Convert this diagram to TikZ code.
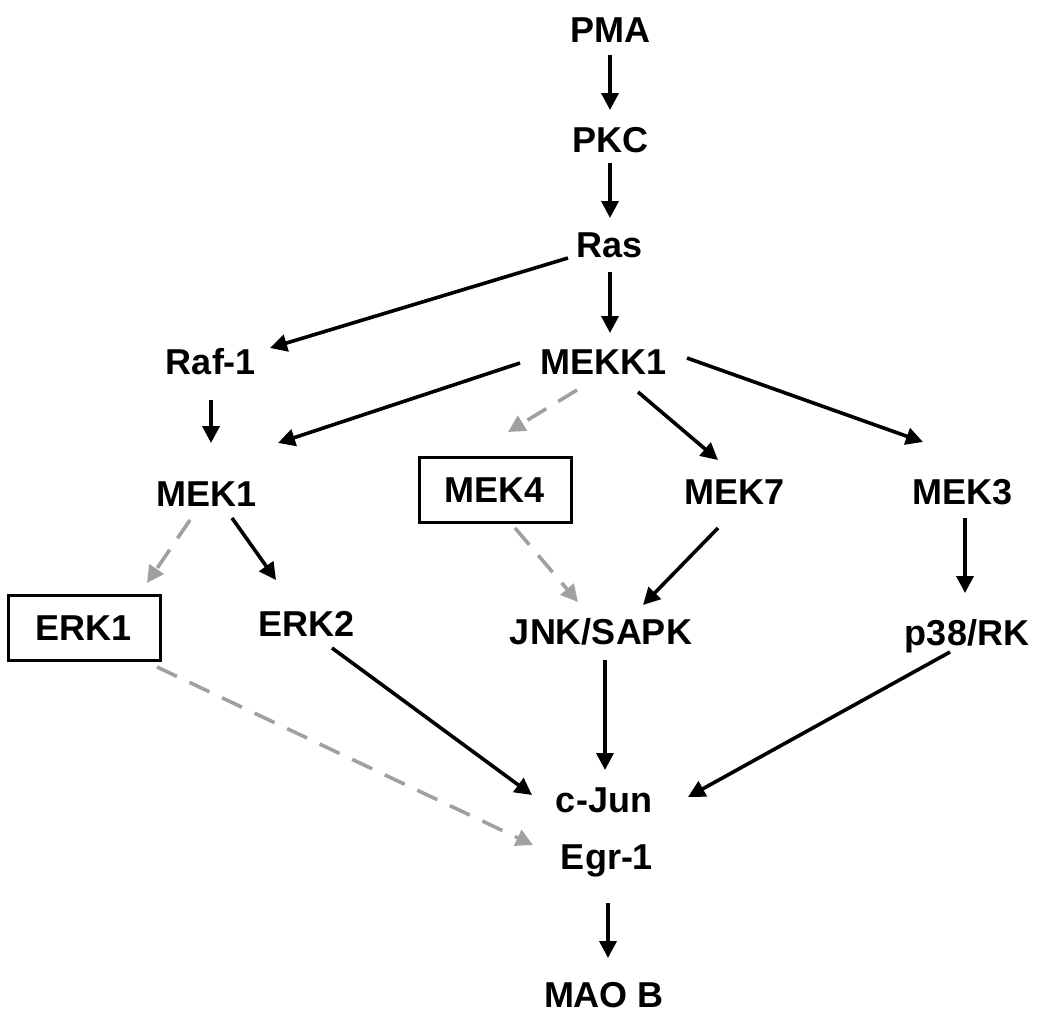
\documentclass[tikz,border=0pt]{standalone}
\usepackage{fontspec}
\setmainfont{Liberation Sans}
\usetikzlibrary{arrows.meta}
\begin{document}
\begin{tikzpicture}[x=1pt,y=-1pt,
  lbl/.style={font=\fontsize{36}{40}\selectfont\bfseries, text height=25pt, text depth=0pt, inner sep=0pt},
  boxed/.style={lbl, draw, line width=3pt, minimum width=152pt, minimum height=65pt},
  arr/.style={line width=3.6pt, -{Triangle[length=17pt,width=17pt]}},
  darr/.style={line width=3.6pt, color=dgray, dash pattern=on 22pt off 14pt, -{Triangle[length=17pt,width=17pt]}}
]
\definecolor{dgray}{RGB}{160,160,160}
\useasboundingbox (0,0) rectangle (1050,1020);
\node[lbl] (pma) at (610,30) {PMA};
\node[lbl] (pkc) at (610,140) {PKC};
\node[lbl] (ras) at (610,245) {Ras};
\node[lbl] (raf) at (211,362) {Raf-1};
\node[lbl] (mekk1) at (604,362) {MEKK1};
\node[lbl] (mek1) at (207,494) {MEK1};
\node[boxed] (mek4) at (495,490) {MEK4};
\node[lbl] (mek7) at (735,492) {MEK7};
\node[lbl] (mek3) at (963,492) {MEK3};
\node[boxed] (erk1) at (84,628) {ERK1};
\node[lbl] (erk2) at (307,624) {ERK2};
\node[lbl] (jnk) at (601,632) {JNK/SAPK};
\node[lbl] (p38) at (967,633) {p38/RK};
\node[lbl] (cjun) at (604,800) {c-Jun};
\node[lbl] (egr) at (607,857) {Egr-1};
\node[lbl] (maob) at (604,995) {MAO B};

\draw[arr] ([shift={(0,25)}]pma.center) -- ([shift={(0,-30)}]pkc.center);
\draw[arr] ([shift={(0,23)}]pkc.center) -- ([shift={(0,-27)}]ras.center);
\draw[arr] ([shift={(0,27)}]ras.center) -- ([shift={(6,-29)}]mekk1.center);
\draw[arr] ([shift={(-42,13)}]ras.center) -- ([shift={(59,-14)}]raf.center);
\draw[arr] ([shift={(0,38)}]raf.center) -- ([shift={(4,-51)}]mek1.center);
\draw[arr] ([shift={(-84,1)}]mekk1.center) -- ([shift={(71,-51)}]mek1.center);
\draw[darr] ([shift={(-27,28)}]mekk1.center) -- ([shift={(13,-58)}]mek4.center);
\draw[arr] ([shift={(34,30)}]mekk1.center) -- ([shift={(-17,-32)}]mek7.center);
\draw[arr] ([shift={(83,-4)}]mekk1.center) -- ([shift={(-40,-50)}]mek3.center);
\draw[darr] ([shift={(-17,26)}]mek1.center) -- ([shift={(63,-45)}]erk1.center);
\draw[arr] ([shift={(25,24)}]mek1.center) -- ([shift={(-31,-44)}]erk2.center);
\draw[darr] ([shift={(20,38)}]mek4.center) -- ([shift={(-23,-30)}]jnk.center);
\draw[arr] ([shift={(-17,36)}]mek7.center) -- ([shift={(42,-27)}]jnk.center);
\draw[arr] ([shift={(2,26)}]mek3.center) -- ([shift={(-2,-40)}]p38.center);
\draw[darr] ([shift={(73,39)}]erk1.center) -- ([shift={(-74,-12)}]egr.center);
\draw[arr] ([shift={(25,24)}]erk2.center) -- ([shift={(-72,-5)}]cjun.center);
\draw[arr] ([shift={(4,28)}]jnk.center) -- ([shift={(1,-30)}]cjun.center);
\draw[arr] ([shift={(-17,19)}]p38.center) -- ([shift={(84,-3)}]cjun.center);
\draw[arr] ([shift={(1,46)}]egr.center) -- ([shift={(4,-37)}]maob.center);
\end{tikzpicture}
\end{document}
